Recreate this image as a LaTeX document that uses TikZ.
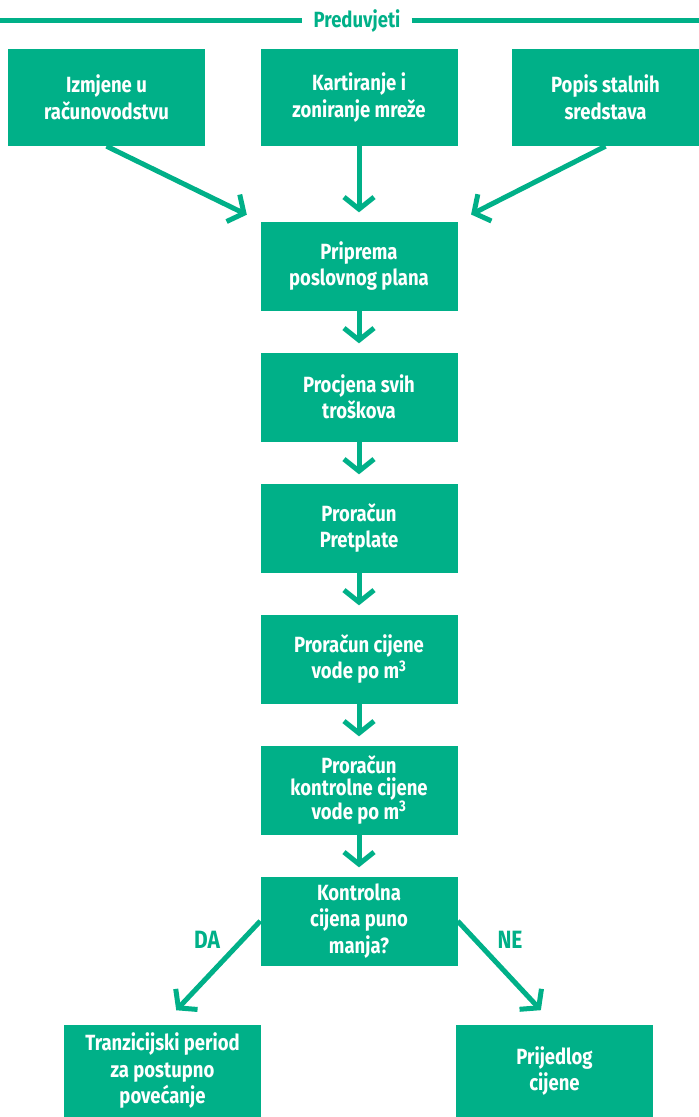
\documentclass[tikz,border=0pt]{standalone}
\usepackage{fontspec}
\setmainfont{Fira Sans}[FakeStretch=0.84]
\usetikzlibrary{arrows.meta}
\definecolor{vodagreen}{RGB}{0,176,136}

\begin{document}
\begin{tikzpicture}[x=1pt, y=-1pt,
    box/.style={fill=vodagreen, text=white, font=\fontsize{22}{26.5}\selectfont\bfseries,
        align=center, minimum width=197pt, minimum height=89pt, inner sep=0pt},
    flow/.style={draw=vodagreen, line width=5pt, -{Straight Barb[length=12pt, width=30pt]}},
    greenlabel/.style={text=vodagreen, font=\fontsize{25}{26}\selectfont\bfseries}]
        \useasboundingbox (0,0) rectangle (699,1117);

        % Header
        \node[greenlabel, font=\fontsize{22}{22}\selectfont\bfseries, inner xsep=11pt] (pred) at (357,21) {Preduvjeti};
        \coordinate (hl) at (0,20);
        \coordinate (hr) at (699,20);
        \draw[vodagreen, line width=5pt] (hl) -- (pred.west |- hl);
        \draw[vodagreen, line width=5pt] (pred.east |- hr) -- (hr);

        % Top row
        \node[box, minimum height=97pt] (izmjene) at (106.5,97.5) {Izmjene u\\računovodstvu};
        \node[box, minimum height=97pt] (kartiranje) at (359,97.5) {Kartiranje i\\zoniranje mreže};
        \node[box, minimum height=97pt, minimum width=187pt] (popis) at (605.5,97.5) {Popis stalnih\\sredstava};

        % Main column
        \node[box] (priprema) at (359,266) {Priprema\\poslovnog plana};
        \node[box] (procjena) at (359,397) {Procjena svih\\troškova};
        \node[box] (pretplata) at (359,528) {Proračun\\Pretplate};
        \node[box] (cijena) at (359,659) {Proračun cijene\\vode po m\textsuperscript{3}};
        \node[box, font=\fontsize{22}{21.5}\selectfont\bfseries] (kontrolna) at (359,790) {Proračun\\kontrolne cijene\\vode po m\textsuperscript{3}};
        \node[box] (odluka) at (359,921) {Kontrolna\\cijena puno\\manja?};

        % Outcomes
        \node[box, minimum height=92pt] (tranzicija) at (162.5,1071) {Tranzicijski period\\za postupno\\povećanje};
        \node[box, minimum height=92pt] (prijedlog) at (554.5,1071) {Prijedlog\\cijene};

        % Arrows
        \draw[flow, shorten >=15pt] (izmjene.south) -- (priprema.north west);
        \draw[flow, shorten >=9pt] (kartiranje.south) -- (priprema.north);
        \draw[flow, shorten >=15pt] (popis.south) -- (priprema.north east);
        \draw[flow, shorten >=9pt] (priprema.south) -- (procjena.north);
        \draw[flow, shorten >=9pt] (procjena.south) -- (pretplata.north);
        \draw[flow, shorten >=9pt] (pretplata.south) -- (cijena.north);
        \draw[flow, shorten >=9pt] (cijena.south) -- (kontrolna.north);
        \draw[flow, shorten >=9pt] (kontrolna.south) -- (odluka.north);
        \draw[flow, shorten >=20pt] (odluka.west) -- (tranzicija.north);
        \draw[flow, shorten >=20pt] (odluka.east) -- (prijedlog.north);

        % Branch labels
        \node[greenlabel] (da) at (207,940) {DA};
        \node[greenlabel] (ne) at (510,940) {NE};
\end{tikzpicture}
\end{document}
